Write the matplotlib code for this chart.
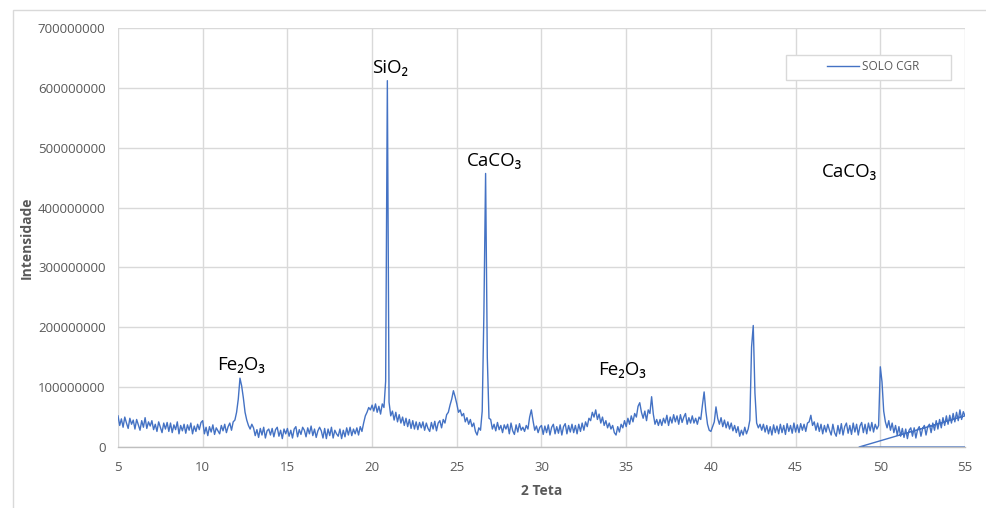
import numpy as np
import matplotlib
matplotlib.use("Agg")
import matplotlib.pyplot as plt
from matplotlib.patches import Rectangle

# ---- data (intensity in millions, 2-theta step 0.1 from 5.0 to 55.0) ----
theta_start = 5.0
theta_step = 0.1
intensity_m = [
    52, 36, 47, 33, 50, 40, 31, 48, 38, 45,      # 5
    30, 46, 37, 28, 44, 33, 49, 31, 42, 35,      # 6
    44, 29, 38, 26, 42, 33, 24, 40, 30, 41,      # 7
    26, 40, 24, 37, 29, 42, 22, 36, 27, 38,      # 8
    23, 37, 28, 40, 22, 35, 26, 38, 29, 41,      # 9
    44, 22, 33, 19, 34, 25, 37, 21, 32, 27,      # 10
    22, 36, 27, 38, 24, 34, 40, 28, 42, 45,      # 11
    58, 80, 115, 102, 82, 58, 45, 36, 30, 38,    # 12
    32, 19, 29, 16, 31, 20, 33, 15, 27, 30,      # 13
    20, 31, 17, 29, 33, 18, 28, 14, 30, 22,      # 14
    31, 18, 28, 15, 30, 34, 17, 29, 21, 33,      # 15
    28, 17, 32, 22, 35, 19, 30, 16, 27, 33,      # 16
    27, 15, 31, 14, 30, 19, 33, 15, 28, 22,      # 17
    18, 30, 14, 28, 17, 32, 20, 33, 19, 30,      # 18
    22, 32, 20, 34, 26, 40, 52, 58, 66, 62,      # 19
    70, 60, 72, 58, 68, 55, 72, 66, 110, 612,    # 20
    75, 52, 60, 45, 58, 42, 54, 40, 50, 36,      # 21
    48, 34, 46, 31, 44, 30, 42, 29, 41, 32,      # 22
    42, 28, 40, 31, 26, 41, 30, 43, 27, 40,      # 23
    44, 32, 46, 40, 54, 58, 70, 80, 94, 84,      # 24
    72, 58, 62, 52, 56, 42, 49, 38, 46, 34,      # 25
    40, 26, 20, 32, 28, 60, 225, 457, 150, 48,   # 26
    46, 30, 38, 27, 41, 29, 36, 24, 37, 30,      # 27
    38, 22, 40, 27, 21, 37, 25, 39, 28, 33,      # 28
    26, 36, 30, 50, 62, 44, 28, 35, 24, 33,      # 29
    36, 21, 35, 24, 37, 20, 33, 38, 22, 34,      # 30
    23, 37, 20, 34, 39, 22, 36, 25, 38, 24,      # 31
    36, 22, 38, 26, 40, 28, 42, 34, 48, 44,      # 32
    58, 50, 62, 46, 55, 40, 50, 36, 44, 32,      # 33
    40, 30, 36, 24, 20, 34, 25, 38, 32, 44,      # 34
    34, 48, 38, 52, 42, 56, 50, 68, 74, 58,      # 35
    48, 60, 44, 62, 56, 84, 55, 38, 46, 36,      # 36
    46, 36, 48, 40, 53, 36, 50, 40, 54, 42,      # 37
    52, 38, 54, 41, 50, 56, 38, 49, 40, 52,      # 38
    40, 48, 38, 50, 46, 70, 92, 60, 38, 28,      # 39
    26, 34, 42, 67, 48, 38, 49, 34, 45, 32,      # 40
    42, 30, 40, 27, 36, 24, 34, 18, 28, 20,      # 41
    33, 22, 30, 45, 167, 203, 90, 40, 32, 38,    # 42
    28, 38, 25, 36, 22, 34, 20, 37, 24, 35,      # 43
    22, 38, 24, 36, 21, 39, 26, 36, 23, 40,      # 44
    25, 37, 24, 39, 28, 38, 26, 40, 42, 53,      # 45
    36, 42, 28, 40, 26, 38, 22, 36, 25, 38,      # 46
    28, 20, 38, 24, 18, 36, 22, 39, 20, 34,      # 47
    40, 23, 36, 21, 40, 25, 38, 20, 35, 41,      # 48
    24, 38, 22, 40, 27, 41, 25, 38, 30, 36,      # 49
    134, 109, 60, 42, 32, 44, 28, 40, 24, 36,    # 50
    20, 34, 18, 31, 16, 30, 14, 28, 32, 18,      # 51
    32, 15, 29, 34, 18, 31, 36, 20, 34, 38,      # 52
    24, 40, 28, 44, 30, 46, 32, 49, 36, 52,      # 53
    38, 53, 40, 56, 42, 58, 44, 62, 46, 59,      # 54
    52,                                          # 55
]
# trailing points of the series (closing segment visible in the chart)
tail_theta = [48.75, 55.0]
tail_intensity_m = [0, 0]

series_name = "SOLO CGR"
annotations = [("Fe₂O₃", 12.29, 137), ("SiO₂", 21.06, 633), ("CaCO₃", 27.25, 478),
               ("Fe₂O₃", 34.75, 128), ("CaCO₃", 48.2, 460)]
x_ticks = [5, 10, 15, 20, 25, 30, 35, 40, 45, 50, 55]
y_ticks = [0, 100000000, 200000000, 300000000, 400000000, 500000000, 600000000, 700000000]

theta = np.round(theta_start + theta_step * np.arange(len(intensity_m)), 2)
x = np.concatenate([theta, tail_theta])
y = np.concatenate([np.array(intensity_m), tail_intensity_m]) * 1e6

W, H = 987, 508
fig = plt.figure(figsize=(W / 100, H / 100), dpi=100)
fig.patch.set_facecolor("white")

# outer chart frame
fig.patches.append(Rectangle((13 / W, -0.1), 1.2, 1 - 10 / H + 0.1, transform=fig.transFigure,
                             fill=False, edgecolor="#D9D9D9", linewidth=1.0))

ax = fig.add_axes([118 / W, (H - 447) / H, 847 / W, 419 / H])
ax.plot(x, y, color="#4472C4", linewidth=1.0, label=series_name)

ax.set_xlim(5, 55)
ax.set_ylim(0, 700000000)
ax.set_xticks(x_ticks)
ax.set_yticks(y_ticks)
ax.set_xticklabels([str(t) for t in x_ticks])
ax.set_yticklabels([str(t) for t in y_ticks])
ax.grid(True, color="#D9D9D9", linewidth=1.0)
ax.set_axisbelow(True)
for s in ["top", "right", "left"]:
    ax.spines[s].set_visible(False)
ax.spines["bottom"].set_color("#BFBFBF")
ax.spines["bottom"].set_linewidth(1.0)
ax.tick_params(axis="both", length=0, labelcolor="#595959", labelsize=9.5)
ax.tick_params(axis="y", pad=9)
ax.tick_params(axis="x", pad=10)
for lab in ax.get_xticklabels() + ax.get_yticklabels():
    lab.set_fontfamily("Open Sans")

ax.set_xlabel("2 Teta", fontsize=10, fontweight="bold", color="#595959", family="Open Sans", va="center")
ax.set_ylabel("Intensidade", fontsize=10, fontweight="bold", color="#595959", family="Open Sans", va="center")
ax.xaxis.set_label_coords(0.5, (447 - 491) / 419)
ax.yaxis.set_label_coords((27 - 118) / 847, 0.5)

for txt, tx, ty in annotations:
    ax.text(tx, ty * 1e6, txt, ha="center", va="center", fontsize=13.5, color="black",
            family=["Open Sans", "DejaVu Sans"])

# legend box
ax.add_patch(Rectangle((786 / W, (H - 80) / H), 165 / W, 25 / H, transform=fig.transFigure,
                       fill=True, facecolor="white", edgecolor="#D9D9D9", linewidth=1.0,
                       zorder=5, clip_on=False))
leg = ax.legend(loc="center left", bbox_to_anchor=((821 - 118) / 847, (447 - 67) / 419), frameon=False,
                handlelength=2.7, borderpad=0.0, handletextpad=0.25,
                prop={"family": "Open Sans", "size": 8.5})
leg.set_zorder(6)
for t in leg.get_texts():
    t.set_color("#595959")

fig.savefig("out.png", dpi=100, facecolor="white")
